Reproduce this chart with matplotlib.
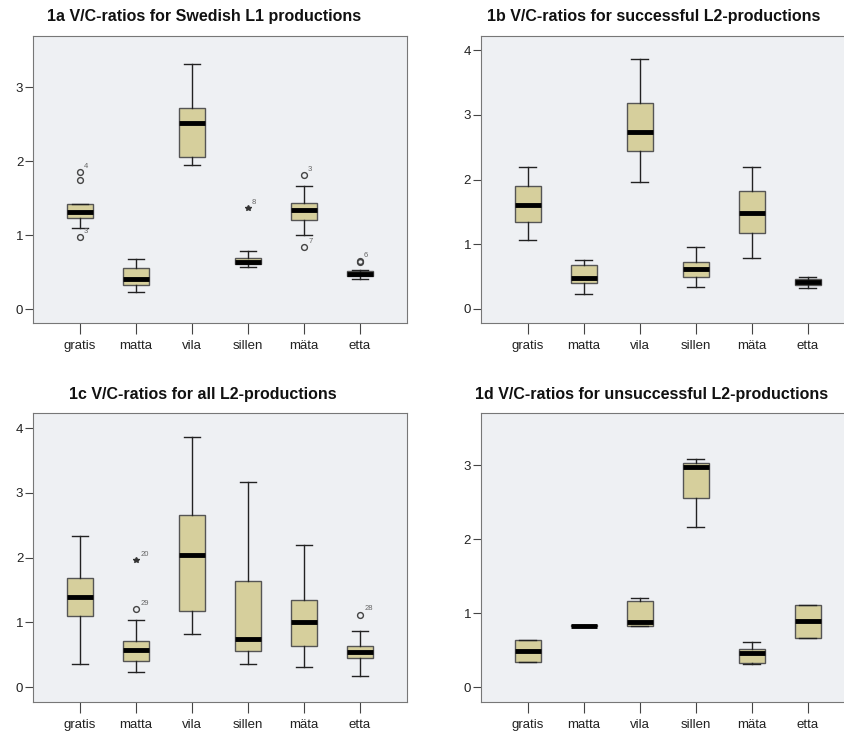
#!/usr/bin/env python
# coding: utf-8
"""V/C-ratio boxplots for four groups of productions (SPSS-style panels)."""

import matplotlib
matplotlib.use("Agg")
import matplotlib.pyplot as plt

plt.rcParams["font.family"] = ["Liberation Sans", "DejaVu Sans"]

WORDS = ["gratis", "matta", "vila", "sillen", "m\u00e4ta", "etta"]
TITLES = [
    "1a V/C-ratios for Swedish L1 productions",
    "1b V/C-ratios for successful L2-productions",
    "1c V/C-ratios for all L2-productions",
    "1d V/C-ratios for unsuccessful L2-productions",
]

# summary values per word: lower whisker, q1, median, q3, upper whisker
L1_LOW = [1.10, 0.23, 1.95, 0.57, 1.00, 0.40]
L1_Q1 = [1.23, 0.32, 2.05, 0.61, 1.20, 0.45]
L1_MED = [1.31, 0.40, 2.51, 0.64, 1.34, 0.48]
L1_Q3 = [1.42, 0.55, 2.72, 0.69, 1.44, 0.51]
L1_HIGH = [1.42, 0.67, 3.31, 0.78, 1.66, 0.53]

SUCC_LOW = [1.07, 0.23, 1.97, 0.34, 0.78, 0.33]
SUCC_Q1 = [1.35, 0.40, 2.45, 0.49, 1.18, 0.37]
SUCC_MED = [1.61, 0.48, 2.73, 0.61, 1.49, 0.42]
SUCC_Q3 = [1.90, 0.68, 3.18, 0.73, 1.82, 0.47]
SUCC_HIGH = [2.20, 0.75, 3.87, 0.95, 2.19, 0.50]

ALL_LOW = [0.35, 0.23, 0.82, 0.35, 0.31, 0.17]
ALL_Q1 = [1.10, 0.41, 1.18, 0.56, 0.64, 0.45]
ALL_MED = [1.39, 0.58, 2.04, 0.74, 1.00, 0.54]
ALL_Q3 = [1.69, 0.71, 2.66, 1.64, 1.34, 0.64]
ALL_HIGH = [2.33, 1.03, 3.87, 3.17, 2.20, 0.87]

UNSUCC_LOW = [0.34, 0.83, 0.82, 2.16, 0.31, 0.67]
UNSUCC_Q1 = [0.34, 0.82, 0.83, 2.56, 0.32, 0.67]
UNSUCC_MED = [0.49, 0.83, 0.88, 2.97, 0.46, 0.90]
UNSUCC_Q3 = [0.64, 0.84, 1.16, 3.03, 0.52, 1.11]
UNSUCC_HIGH = [0.64, 0.83, 1.21, 3.08, 0.61, 1.11]

# outliers: (word index, value, case label, marker)
L1_OUTLIERS = [
    (0, 1.85, "4", "o"), (0, 1.75, "", "o"), (0, 0.97, "3", "o"),
    (3, 1.37, "8", "*"),
    (4, 1.81, "3", "o"), (4, 0.84, "7", "o"),
    (5, 0.65, "6", "o"), (5, 0.63, "", "o"),
]
SUCC_OUTLIERS = []
ALL_OUTLIERS = [
    (1, 1.96, "20", "*"), (1, 1.20, "29", "o"),
    (5, 1.12, "28", "o"),
]
UNSUCC_OUTLIERS = []

PANELS = [
    (L1_LOW, L1_Q1, L1_MED, L1_Q3, L1_HIGH, L1_OUTLIERS),
    (SUCC_LOW, SUCC_Q1, SUCC_MED, SUCC_Q3, SUCC_HIGH, SUCC_OUTLIERS),
    (ALL_LOW, ALL_Q1, ALL_MED, ALL_Q3, ALL_HIGH, ALL_OUTLIERS),
    (UNSUCC_LOW, UNSUCC_Q1, UNSUCC_MED, UNSUCC_Q3, UNSUCC_HIGH, UNSUCC_OUTLIERS),
]
Y_TICKS = [[0, 1, 2, 3], [0, 1, 2, 3, 4], [0, 1, 2, 3, 4], [0, 1, 2, 3]]
Y_LIMS = [(-0.19, 3.69), (-0.22, 4.22), (-0.23, 4.23), (-0.2, 3.7)]

BG = "#eef0f3"
BOX_FILL = "#d6cf9c"
EDGE = "#555555"

# axes rectangles in figure fractions and title anchor points
RECTS = [
    [0.039, 0.558, 0.4426, 0.3926],
    [0.569, 0.558, 0.4426, 0.3926],
    [0.039, 0.0397, 0.4426, 0.395],
    [0.569, 0.0397, 0.4426, 0.395],
]
TITLE_XY = [(204, 16), (654, 16), (203, 395), (652, 395)]


def draw_panel(ax, panel, yticks, ylim):
    """Draw one SPSS-like boxplot panel from summary values."""
    low, q1, med, q3, high, outliers = panel
    stats = []
    for i in range(len(WORDS)):
        stats.append({"whislo": low[i], "q1": q1[i], "med": med[i],
                      "q3": q3[i], "whishi": high[i], "fliers": []})
    ax.bxp(stats, positions=range(1, len(WORDS) + 1), widths=0.46,
           capwidths=0.3, patch_artist=True, showfliers=False,
           boxprops=dict(facecolor=BOX_FILL, edgecolor=EDGE, linewidth=1.0),
           medianprops=dict(color="black", linewidth=3.5,
                            solid_capstyle="butt"),
           whiskerprops=dict(color="#222222", linewidth=1.0),
           capprops=dict(color="#222222", linewidth=1.0))
    for idx, val, label, marker in outliers:
        x = idx + 1
        if marker == "*":
            ax.plot(x, val, marker="*", ms=4, color="#333333", ls="none")
        else:
            ax.plot(x, val, marker="o", ms=4.2, mfc="none", mec="#444444",
                    mew=1.0, ls="none")
        if label:
            ax.annotate(label, (x, val), xytext=(3, 3),
                        textcoords="offset points", fontsize=5.5,
                        color="#666666")
    ax.set_facecolor(BG)
    ax.set_xlim(0.16, 6.84)
    ax.set_ylim(*ylim)
    ax.set_xticks(range(1, len(WORDS) + 1))
    ax.set_xticklabels(WORDS, fontsize=9.5, color="#222222")
    ax.set_yticks(yticks)
    ax.set_yticklabels([str(t) for t in yticks], fontsize=9.5,
                       color="#222222")
    ax.tick_params(axis="x", length=8, width=0.8, color="#444444", pad=4)
    ax.tick_params(axis="y", length=6, width=0.8, color="#444444", pad=1)
    for s in ax.spines.values():
        s.set_color("#777777")
        s.set_linewidth(0.8)


fig = plt.figure(figsize=(8.45, 7.31), dpi=100)
W, H = 845, 731
for k in range(4):
    ax = fig.add_axes(RECTS[k])
    draw_panel(ax, PANELS[k], Y_TICKS[k], Y_LIMS[k])
    tx, ty = TITLE_XY[k]
    fig.text(tx / W, 1 - ty / H, TITLES[k], ha="center", va="center",
             fontsize=11.5, fontweight="bold", color="#111111")

fig.savefig("out.png", dpi=100, facecolor="white")
